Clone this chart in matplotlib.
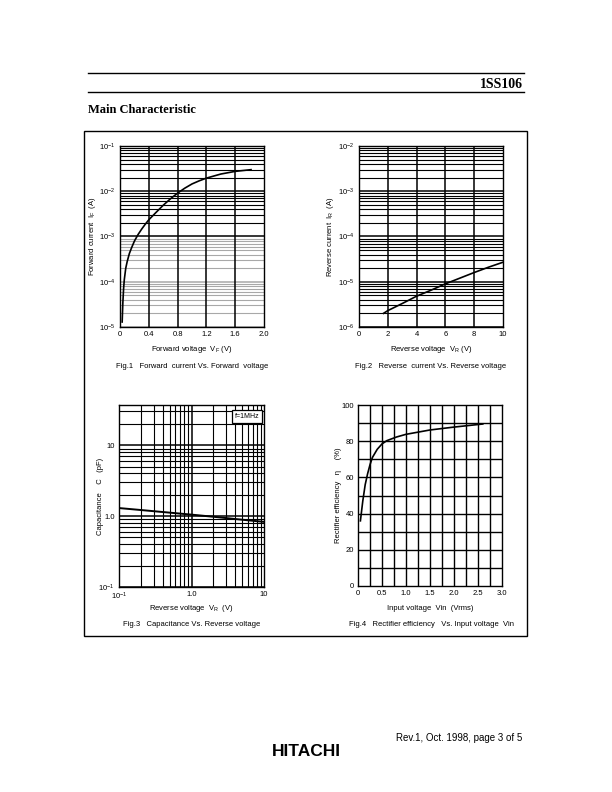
import matplotlib
matplotlib.use("Agg")
import matplotlib.pyplot as plt
import numpy as np

plt.rcParams['font.family'] = ['Liberation Sans', 'DejaVu Sans']
plt.rcParams['mathtext.fontset'] = 'custom'
plt.rcParams['mathtext.rm'] = 'Liberation Sans'
plt.rcParams['mathtext.it'] = 'Liberation Sans'

# Fig.1 forward characteristic
vf = [0.03, 0.04, 0.05, 0.06, 0.08, 0.1, 0.13, 0.16, 0.2, 0.25, 0.3, 0.35,
      0.4, 0.5, 0.6, 0.7, 0.8, 0.9, 1.0, 1.1, 1.2, 1.4, 1.6, 1.82]
i_f = [1.29e-5, 3.55e-5, 7.1e-5, 1.12e-4, 2.0e-4, 2.8e-4, 4.2e-4, 5.6e-4,
       7.9e-4, 1.1e-3, 1.45e-3, 1.86e-3, 2.34e-3, 3.4e-3, 4.9e-3, 6.8e-3,
       9.1e-3, 1.17e-2, 1.45e-2, 1.7e-2, 1.95e-2, 2.4e-2, 2.75e-2, 3.0e-2]
vf_ticks = [0, 0.4, 0.8, 1.2, 1.6, 2.0]
vf_labels = ['0', '0.4', '0.8', '1.2', '1.6', '2.0']

# Fig.2 reverse characteristic
vr = [1.7, 2, 3, 4, 5, 6, 7, 8, 9, 10]
i_r = [2e-6, 2.3e-6, 3.3e-6, 4.8e-6, 6.5e-6, 9e-6, 1.2e-5, 1.6e-5, 2.1e-5, 2.7e-5]
vr_ticks = [0, 2, 4, 6, 8, 10]

# Fig.3 capacitance
vc = [0.1, 0.2, 0.5, 1.0, 2.0, 5.0, 10.0]
cap = [1.3, 1.22, 1.12, 1.05, 0.98, 0.89, 0.83]

# Fig.4 rectifier efficiency
vin = [0.05, 0.1, 0.15, 0.2, 0.25, 0.3, 0.4, 0.5, 0.6, 0.8, 1.0, 1.5, 2.0, 2.6]
eff = [36, 47, 56, 62, 67, 71, 75.5, 78.5, 80.3, 82.3, 83.8, 86.2, 87.8, 89.5]
vin_ticks = [0, 0.5, 1.0, 1.5, 2.0, 2.5, 3.0]
vin_labels = ['0', '0.5', '1.0', '1.5', '2.0', '2.5', '3.0']
eff_ticks = [0, 20, 40, 60, 80, 100]

W, H = 612, 792
fig = plt.figure(figsize=(6.12, 7.92), dpi=100)


def px_axes(l, t, r, b):
    return fig.add_axes([l / W, 1 - b / H, (r - l) / W, (b - t) / H])


def style(ax):
    for s in ax.spines.values():
        s.set_linewidth(1.0)
        s.set_color('black')
    ax.tick_params(which='both', length=0, labelsize=5.5, pad=3)
    ax.set_zorder(1)


def log_hlines(ax, lo, hi, color_fn, lw=0.8):
    for e in range(lo, hi):
        for m in range(1, 10):
            v = m * 10.0 ** e
            ax.axhline(v, color=color_fn(v), lw=lw if m > 1 else 1.1, zorder=0.5)


def log_vlines(ax, lo, hi, lw=0.8):
    for e in range(lo, hi):
        for m in range(1, 10):
            ax.axvline(m * 10.0 ** e, color='black', lw=lw if m > 1 else 1.1, zorder=0.5)


def sup(e):
    return r'$10^{%d}$' % e


fs = 5.5

# ---------- Fig.1
ax1 = px_axes(120, 146, 264, 327)
style(ax1)
ax1.set_yscale('log')
ax1.set_xlim(0, 2.0)
ax1.set_ylim(1e-5, 1e-1)
log_hlines(ax1, -5, -1, lambda v: 'black' if v >= 9.9e-4 else '#a8a8a8')
for x in vf_ticks[1:-1]:
    ax1.axvline(x, color='black', lw=1.1, zorder=0.6)
ax1.plot(vf, i_f, color='black', lw=1.2, zorder=2)
ax1.set_xticks(vf_ticks)
ax1.set_xticklabels(vf_labels)
ax1.set_yticks([1e-5, 1e-4, 1e-3, 1e-2, 1e-1])
ax1.set_yticklabels([sup(e) for e in range(-5, 0)])
ax1.yaxis.set_minor_locator(matplotlib.ticker.NullLocator())
ax1.set_xlabel(r'Forward voltage  V$_{\mathregular{F}}$ (V)', fontsize=fs, labelpad=4)
ax1.set_ylabel(r'Forward current  I$_{\mathregular{F}}$  (A)', fontsize=fs)
ax1.yaxis.set_label_coords(-0.15, 0.5)

# ---------- Fig.2
ax2 = px_axes(359, 146, 503, 327)
style(ax2)
ax2.set_yscale('log')
ax2.set_xlim(0, 10)
ax2.set_ylim(1e-6, 1e-2)
log_hlines(ax2, -6, -2, lambda v: 'black')
for x in vr_ticks[1:-1]:
    ax2.axvline(x, color='black', lw=1.1, zorder=0.6)
ax2.plot(vr, i_r, color='black', lw=1.2, zorder=2)
ax2.set_xticks(vr_ticks)
ax2.set_yticks([1e-6, 1e-5, 1e-4, 1e-3, 1e-2])
ax2.set_yticklabels([sup(e) for e in range(-6, -1)])
ax2.yaxis.set_minor_locator(matplotlib.ticker.NullLocator())
ax2.set_xlabel(r'Reverse voltage  V$_{\mathregular{R}}$ (V)', fontsize=fs, labelpad=4)
ax2.set_ylabel(r'Reverse current  I$_{\mathregular{R}}$  (A)', fontsize=fs)
ax2.yaxis.set_label_coords(-0.16, 0.5)

# ---------- Fig.3
ax3 = px_axes(119, 405, 264, 587)
style(ax3)
ax3.set_xscale('log')
ax3.set_yscale('log')
ax3.set_xlim(0.1, 10)
ax3.set_ylim(0.1, 37)
log_hlines(ax3, -1, 2, lambda v: 'black')
log_vlines(ax3, -1, 1)
ax3.plot(vc, cap, color='black', lw=1.4, zorder=2)
ax3.set_xticks([0.1, 1, 10])
ax3.set_xticklabels([sup(-1), '1.0', '10'])
ax3.set_yticks([0.1, 1, 10])
ax3.set_yticklabels([sup(-1), '1.0', '10'])
ax3.xaxis.set_minor_locator(matplotlib.ticker.NullLocator())
ax3.yaxis.set_minor_locator(matplotlib.ticker.NullLocator())
ax3.set_xlabel(r'Reverse voltage  V$_{\mathregular{R}}$  (V)', fontsize=fs)
ax3.xaxis.set_label_coords(0.5, -0.088)
ax3.set_ylabel('Capacitance    C   (pF)', fontsize=fs)
ax3.yaxis.set_label_coords(-0.1, 0.5)
ax3.text(0.97, 0.955, 'f=1MHz', transform=ax3.transAxes, ha='right', va='top',
         fontsize=5, zorder=3,
         bbox=dict(boxstyle='square,pad=0.4', fc='white', ec='black', lw=0.9))

# ---------- Fig.4
ax4 = px_axes(358, 405, 502, 586)
style(ax4)
ax4.set_xlim(0, 3.0)
ax4.set_ylim(0, 100)
for x in np.arange(0.25, 3.0, 0.25):
    ax4.axvline(x, color='black', lw=1.0, zorder=0.6)
for y in range(10, 100, 10):
    ax4.axhline(y, color='black', lw=1.0, zorder=0.6)
ax4.plot(vin, eff, color='black', lw=1.2, zorder=2)
ax4.set_xticks(vin_ticks)
ax4.set_xticklabels(vin_labels)
ax4.set_yticks(eff_ticks)
ax4.set_xlabel('Input voltage  Vin  (Vrms)', fontsize=fs)
ax4.xaxis.set_label_coords(0.5, -0.105)
ax4.set_ylabel('Rectifier efficiency   η     (%)', fontsize=fs)
ax4.yaxis.set_label_coords(-0.112, 0.5)

# ---------- captions
fig.text(192 / W, 1 - 366 / H, 'Fig.1   Forward  current Vs. Forward  voltage',
         ha='center', va='center', fontsize=fs)
fig.text(431 / W, 1 - 366 / H, 'Fig.2   Reverse  current Vs. Reverse voltage',
         ha='center', va='center', fontsize=fs)
fig.text(192 / W, 1 - 625 / H, 'Fig.3   Capacitance Vs. Reverse voltage',
         ha='center', va='center', fontsize=fs)
fig.text(431 / W, 1 - 625 / H, 'Fig.4   Rectifier efficiency   Vs. Input voltage  Vin',
         ha='center', va='center', fontsize=fs)

# ---------- page furniture
page = fig.add_axes([0, 0, 1, 1], zorder=-1)
page.set_xlim(0, W)
page.set_ylim(H, 0)
page.axis('off')
page.plot([88, 524], [73, 73], color='black', lw=1.0)
page.plot([88, 524], [92, 92], color='black', lw=1.0)
page.add_patch(plt.Rectangle((84, 131), 443, 505, fill=False, ec='black', lw=1.0))
page.text(523, 84, '1SS106', ha='right', va='center', fontsize=10,
          fontweight='bold', family='Liberation Serif')
page.text(88, 110, 'Main Characteristic', ha='left', va='center', fontsize=9,
          fontweight='bold', family='Liberation Serif')
page.text(522, 738, 'Rev.1, Oct. 1998, page 3 of 5', ha='right', va='center',
          fontsize=7)
page.text(306, 752, 'HITACHI', ha='center', va='center', fontsize=12.5,
          fontweight='bold')

fig.savefig('out.png', dpi=100)
